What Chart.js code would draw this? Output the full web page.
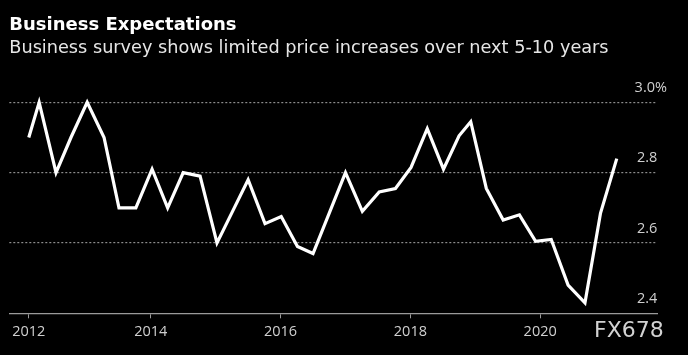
<!DOCTYPE html>
<html>
<head>
<meta charset="utf-8">
<script src="https://cdn.jsdelivr.net/npm/chart.js@4"></script>
<style>
  html, body { margin: 0; padding: 0; background: #000; }
  #wrap { width: 688px; height: 355px; background: #000; }
</style>
</head>
<body>
<div id="wrap"><canvas id="c" width="688" height="355"></canvas></div>
<script>
// ---- data ----
const titleText = 'Business Expectations';
const subtitleText = 'Business survey shows limited price increases over next 5-10 years';
const sourceTag = 'FX678';

// survey dates (decimal years)
const surveyDates = [
  2012.12, 2012.28, 2012.54, 2012.77,
  2013.02, 2013.28, 2013.51, 2013.77,
  2014.02, 2014.26, 2014.50, 2014.76,
  2015.02, 2015.26, 2015.50, 2015.76,
  2016.01, 2016.26, 2016.50, 2016.75,
  2017.00, 2017.26, 2017.52, 2017.77,
  2018.01, 2018.26, 2018.51, 2018.75,
  2018.93, 2019.17, 2019.43, 2019.68,
  2019.93, 2020.17, 2020.43, 2020.69,
  2020.93, 2021.18
];
// expected price growth over next 5-10 years (%)
const expectations = [
  2.90, 3.00, 2.80, 2.90,
  3.00, 2.90, 2.70, 2.70,
  2.81, 2.70, 2.80, 2.79,
  2.60, 2.69, 2.78, 2.655,
  2.675, 2.59, 2.57, 2.685,
  2.80, 2.69, 2.745, 2.755,
  2.815, 2.925, 2.81, 2.905,
  2.945, 2.755, 2.665, 2.68,
  2.605, 2.61, 2.48, 2.43,
  2.685, 2.84
];

const xTickValues = [2012.12, 2014, 2016, 2018, 2020];
const xTickLabels = ['2012', '2014', '2016', '2018', '2020'];
const yTickValues = [2.4, 2.6, 2.8, 3.0];
const yTickLabels = ['2.4', '2.6', '2.8', '3.0%'];

// ---- chart ----
const points = surveyDates.map((d, i) => ({ x: d, y: expectations[i] }));

const sourcePlugin = {
  id: 'sourceTag',
  afterDraw(chart) {
    const ctx = chart.ctx;
    ctx.save();
    ctx.font = '22px "DejaVu Sans"';
    ctx.fillStyle = '#d2d2d2';
    ctx.textAlign = 'left';
    ctx.textBaseline = 'alphabetic';
    ctx.fillText(sourceTag, 594, 337);
    ctx.restore();
  }
};

new Chart(document.getElementById('c'), {
  type: 'line',
  data: {
    datasets: [{
      data: points,
      borderColor: '#ffffff',
      borderWidth: 3.2,
      pointRadius: 0,
      pointHoverRadius: 0,
      tension: 0,
      fill: false,
      clip: false
    }]
  },
  options: {
    responsive: false,
    animation: false,
    devicePixelRatio: 1,
    layout: { padding: { left: 9.3, right: 11, top: 0, bottom: 9.9 } },
    plugins: {
      legend: { display: false },
      tooltip: { enabled: false },
      title: {
        display: true,
        text: titleText,
        align: 'start',
        color: '#ffffff',
        font: { family: '"DejaVu Sans"', size: 18, weight: 'bold', lineHeight: 1.2 },
        padding: { top: 14.7, bottom: 0 }
      },
      subtitle: {
        display: true,
        text: subtitleText,
        align: 'start',
        color: '#e6e6e6',
        font: { family: '"DejaVu Sans"', size: 17.7, weight: 'normal', lineHeight: 1.2 },
        padding: { top: 1.1, bottom: 43.7 }
      }
    },
    scales: {
      x: {
        type: 'linear',
        min: 2011.82,
        max: 2021.80,
        afterBuildTicks(axis) { axis.ticks = xTickValues.map(v => ({ value: v })); },
        ticks: {
          autoSkip: false,
          maxRotation: 0,
          color: '#cfcfcf',
          font: { family: '"Open Sans"', size: 14.5 },
          padding: 4.7,
          callback: (v, i) => xTickLabels[i]
        },
        grid: {
          display: true,
          drawOnChartArea: false,
          drawTicks: true,
          tickLength: 5,
          color: '#9a9a9a'
        },
        border: { display: true, color: '#9a9a9a', width: 1.3 }
      },
      y: {
        type: 'linear',
        position: 'right',
        min: 2.4,
        max: 3.0,
        afterBuildTicks(axis) { axis.ticks = yTickValues.map(v => ({ value: v })); },
        ticks: {
          mirror: true,
          padding: 10,
          labelOffset: -14.5,
          color: '#cfcfcf',
          font: { family: '"Open Sans"', size: 14.5 },
          callback: (v, i) => yTickLabels[i].indexOf('%') >= 0 ? yTickLabels[i] : yTickLabels[i] + '\u2002\u2009'
        },
        grid: {
          drawTicks: false,
          lineWidth: 1.2,
          color: (ctx) => (ctx.tick && ctx.tick.value <= 2.4001) ? 'rgba(0,0,0,0)' : '#8c8c8c'
        },
        border: { display: false, dash: [2, 2] }
      }
    }
  },
  plugins: [sourcePlugin]
});
</script>
</body>
</html>
